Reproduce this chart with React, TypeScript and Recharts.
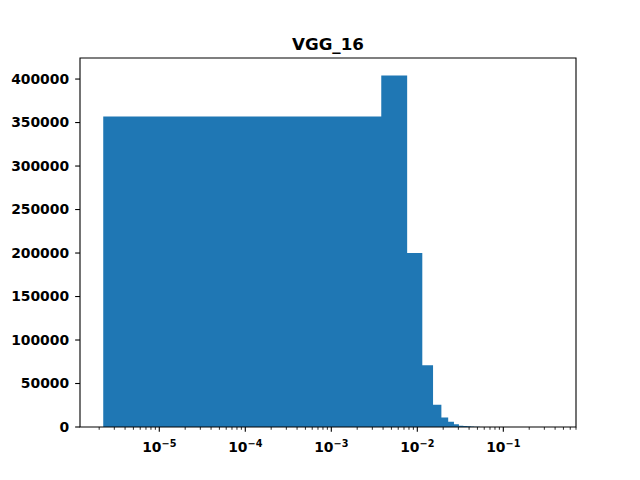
import React from 'react';
import { ComposedChart, Area, XAxis, YAxis, ReferenceArea } from 'recharts';

const chartTitle = 'VGG_16';

// histogram bin edges (linear bins on a log-scaled x axis)
const binEdges = [
  0.00000223, 0.00381, 0.00762, 0.01143, 0.01524, 0.01905, 0.02286, 0.02667,
  0.03048, 0.03429, 0.0381, 0.04191, 0.04572, 0.04953, 0.05334, 0.05715,
  0.06096, 0.06477, 0.06858, 0.07239, 0.0762,
];
const binCounts = [
  357000, 404000, 200000, 71000, 25500, 11000, 6000, 3200, 1500, 1200, 900,
  450, 280, 180, 110, 70, 40, 25, 15, 10,
];

const yTicks = [0, 50000, 100000, 150000, 200000, 250000, 300000, 350000, 400000];
const xMajorTicks = [1e-5, 1e-4, 1e-3, 1e-2, 1e-1];
const xMajorExponents = ['−5', '−4', '−3', '−2', '−1'];
const xMinorTicks = [
  2e-6, 3e-6, 4e-6, 5e-6, 6e-6, 7e-6, 8e-6, 9e-6,
  2e-5, 3e-5, 4e-5, 5e-5, 6e-5, 7e-5, 8e-5, 9e-5,
  2e-4, 3e-4, 4e-4, 5e-4, 6e-4, 7e-4, 8e-4, 9e-4,
  2e-3, 3e-3, 4e-3, 5e-3, 6e-3, 7e-3, 8e-3, 9e-3,
  2e-2, 3e-2, 4e-2, 5e-2, 6e-2, 7e-2, 8e-2, 9e-2,
  2e-1, 3e-1, 4e-1, 5e-1, 6e-1, 7e-1,
];
const xDomain = [1.197e-6, 0.7];
const yDomain = [0, 424200];

const data = binEdges.map((edge, i) => ({
  x: edge,
  count: i < binCounts.length ? binCounts[i] : 0,
}));

const FONT = 'DejaVu Sans';

const XTick = (props: any) => {
  const { x, y, payload } = props;
  const v = payload.value;
  const idx = xMajorTicks.findIndex((t) => Math.abs(t - v) / t < 1e-9);
  const major = idx >= 0;
  return (
    <g>
      <line
        x1={x}
        x2={x}
        y1={y}
        y2={y + (major ? 4.86 : 2.78)}
        stroke="#000"
        strokeWidth={major ? 1.1 : 0.83}
      />
      {major && (
        <text
          x={x}
          y={y + 24.7}
          textAnchor="middle"
          fontFamily={FONT}
          fontWeight="bold"
          fill="#000"
        >
          <tspan fontSize={13.9}>10</tspan>
          <tspan fontSize={9.7} dy={-5.2}>
            {xMajorExponents[idx]}
          </tspan>
        </text>
      )}
    </g>
  );
};

export default function App() {
  const allTicks = [...xMajorTicks, ...xMinorTicks].sort((a, b) => a - b);
  return (
    <div style={{ position: 'absolute', left: 0, top: 0, width: 640, height: 480, background: '#fff' }}>
      <ComposedChart
        width={640}
        height={480}
        data={data}
        margin={{ top: 58, right: 64, left: 0, bottom: 23 }}
      >
        <XAxis
          dataKey="x"
          type="number"
          scale="log"
          domain={xDomain}
          allowDataOverflow
          ticks={allTicks}
          interval={0}
          tickLine={false}
          axisLine={false}
          tickSize={0}
          tickMargin={0}
          height={30}
          tick={<XTick />}
        />
        <YAxis
          type="number"
          domain={yDomain}
          allowDataOverflow
          ticks={yTicks}
          interval={0}
          width={80}
          axisLine={false}
          tickSize={4.86}
          tickMargin={6}
          tickLine={{ stroke: '#000', strokeWidth: 1.1 }}
          tick={{ fill: '#000', fontSize: 13.9, fontWeight: 'bold', fontFamily: FONT }}
        />
        <Area
          dataKey="count"
          type="stepAfter"
          fill="#1f77b4"
          fillOpacity={1}
          stroke="none"
          isAnimationActive={false}
          dot={false}
          activeDot={false}
        />
        <ReferenceArea
          x1={xDomain[0]}
          x2={xDomain[1]}
          y1={yDomain[0]}
          y2={yDomain[1]}
          fill="none"
          fillOpacity={0}
          stroke="#000"
          strokeWidth={1.1}
          ifOverflow="visible"
        />
      </ComposedChart>
      <svg
        width={640}
        height={480}
        style={{ position: 'absolute', left: 0, top: 0, pointerEvents: 'none' }}
      >
        <text
          x={328}
          y={49.7}
          textAnchor="middle"
          fontFamily={FONT}
          fontWeight="bold"
          fontSize={16.7}
          fill="#000"
        >
          {chartTitle}
        </text>
      </svg>
    </div>
  );
}
